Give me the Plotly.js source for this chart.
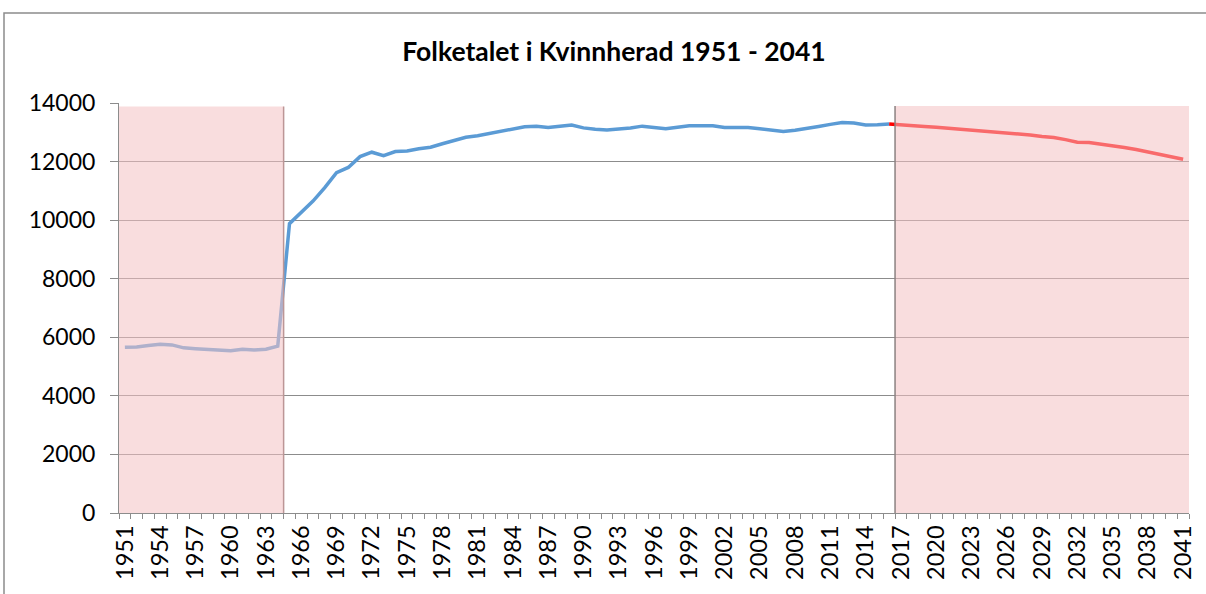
<!DOCTYPE html>
<html>
<head>
<meta charset="utf-8">
<script src="https://cdn.plot.ly/plotly-3.0.1.min.js"></script>
<style>html,body{margin:0;padding:0;background:#fff;}#chart{width:1206px;height:594px;}</style>
</head>
<body>
<div id="chart"></div>
<script>
// Historical population (Kvinnherad), 1951-2016
const histYears = [1951,1952,1953,1954,1955,1956,1957,1958,1959,1960,1961,1962,1963,1964,1965,1966,1967,1968,1969,1970,1971,1972,1973,1974,1975,1976,1977,1978,1979,1980,1981,1982,1983,1984,1985,1986,1987,1988,1989,1990,1991,1992,1993,1994,1995,1996,1997,1998,1999,2000,2001,2002,2003,2004,2005,2006,2007,2008,2009,2010,2011,2012,2013,2014,2015,2016];
const histPop = [5660,5670,5720,5760,5740,5640,5610,5590,5560,5540,5590,5570,5590,5700,9880,10270,10650,11110,11620,11800,12170,12320,12200,12340,12360,12440,12490,12610,12710,12830,12880,12960,13030,13110,13190,13210,13160,13210,13250,13150,13100,13080,13110,13150,13210,13160,13120,13170,13220,13220,13220,13160,13160,13160,13120,13080,13030,13070,13120,13200,13270,13330,13320,13250,13260,13280];
// Projection, 2016-2041
const projYears = [2016,2017,2018,2019,2020,2021,2022,2023,2024,2025,2026,2027,2028,2029,2030,2031,2032,2033,2034,2035,2036,2037,2038,2039,2040,2041];
const projPop = [13280,13260,13240,13200,13170,13140,13100,13070,13030,13010,12980,12940,12910,12860,12820,12750,12660,12650,12600,12540,12480,12410,12330,12260,12180,12080];
// Shaded periods (first and last year covered) and their heights
const leftShadeYears = [1951, 1964];
const rightShadeYears = [2017, 2041];
const shadeLevels = [13880, 13900];
// Tick labels
const tickYears = [1951,1954,1957,1960,1963,1966,1969,1972,1975,1978,1981,1984,1987,1990,1993,1996,1999,2002,2005,2008,2011,2014,2017,2020,2023,2026,2029,2032,2035,2038,2041];
const yTicks = [0,2000,4000,6000,8000,10000,12000,14000];

const FONT = 'Lato, "Open Sans", sans-serif';
const shadeFill = 'rgba(244,193,195,0.55)';

function shadeTrace(yrs, level) {
  return {
    x: [yrs[0] - 0.5, yrs[1] + 0.5], y: [level, level],
    xaxis: 'x2', yaxis: 'y2', type: 'scatter', mode: 'lines',
    fill: 'tozeroy', fillcolor: shadeFill, line: {width: 0},
    hoverinfo: 'skip', showlegend: false
  };
}
function edgeTrace(xv, level, color) {
  return {
    x: [xv, xv], y: [0, level], xaxis: 'x2', yaxis: 'y2',
    type: 'scatter', mode: 'lines', line: {color: color, width: 1.5},
    hoverinfo: 'skip', showlegend: false
  };
}

const traces = [
  {x: histYears, y: histPop, type: 'scatter', mode: 'lines',
   line: {color: '#5b9bd5', width: 3.5}, showlegend: false},
  {x: projYears, y: projPop, type: 'scatter', mode: 'lines',
   line: {color: '#ff0000', width: 3.5}, showlegend: false},
  shadeTrace(leftShadeYears, shadeLevels[0]),
  shadeTrace(rightShadeYears, shadeLevels[1]),
  edgeTrace(leftShadeYears[1] + 0.5, shadeLevels[0], 'rgb(188,150,150)'),
  edgeTrace(rightShadeYears[0] - 0.5, shadeLevels[1], 'rgb(140,130,130)')
];

const xr = [histYears[0] - 0.5, projYears[projYears.length - 1] + 0.5];
const layout = {
  width: 1206, height: 594,
  margin: {l: 119, r: 17, t: 103, b: 81},
  paper_bgcolor: '#fff', plot_bgcolor: '#fff',
  font: {family: FONT, color: '#000', size: 22},
  title: {text: '<b>Folketalet i Kvinnherad 1951 - 2041</b>',
          font: {family: FONT, size: 26.5, color: '#000'},
          x: 614 / 1206, xref: 'container', xanchor: 'center',
          y: 1 - 52 / 594, yref: 'container', yanchor: 'middle'},
  xaxis: {
    range: xr, type: 'linear', tickvals: tickYears, ticktext: tickYears.map(String),
    tickangle: -90, ticks: '', showgrid: false, zeroline: false,
    showline: true, linecolor: '#8c8c8c', linewidth: 1,
    ticklabelstandoff: 2,
    tickfont: {family: FONT, size: 23.5, color: '#000'},
    minor: {tick0: 1950.5, dtick: 1, ticks: 'outside', ticklen: 5, tickcolor: '#8c8c8c', tickwidth: 1, showgrid: false}
  },
  yaxis: {
    range: [0, 14000], tickvals: yTicks, ticktext: yTicks.map(String),
    showgrid: true, gridcolor: '#8c8c8c', gridwidth: 1, zeroline: false,
    showline: true, linecolor: '#8c8c8c', linewidth: 1,
    ticks: 'outside', ticklen: 8, tickcolor: '#8c8c8c',
    ticklabelstandoff: 10,
    tickfont: {family: FONT, size: 23, color: '#000'}
  },
  xaxis2: {overlaying: 'x', matches: 'x', visible: false},
  yaxis2: {overlaying: 'y', matches: 'y', visible: false},
  shapes: [{
    type: 'rect', xref: 'paper', yref: 'paper',
    x0: (4 - 119) / 1070, x1: (1215 - 119) / 1070,
    y0: (513 - 610) / 410, y1: (513 - 13) / 410,
    line: {color: '#8c8c8c', width: 1.5}, fillcolor: 'rgba(0,0,0,0)', layer: 'below'
  }]
};

Plotly.newPlot('chart', traces, layout, {displayModeBar: false, staticPlot: true});
</script>
</body>
</html>
